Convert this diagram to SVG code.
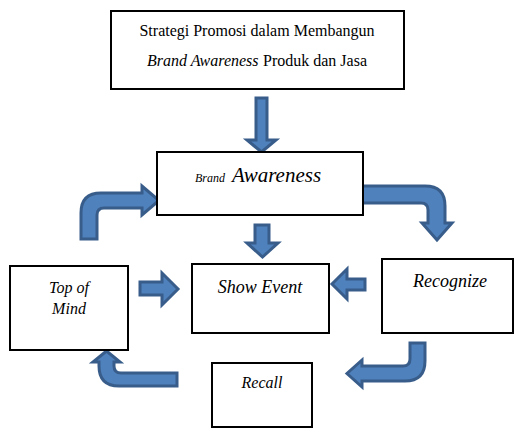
<svg xmlns="http://www.w3.org/2000/svg" width="515" height="428" viewBox="0 0 515 428">
<style>
.box{fill:#fff;stroke:#000;stroke-width:2}
.arr{fill:#4F81BD;stroke:#385D8A;stroke-width:3;stroke-linejoin:miter}
.t{font-family:'Liberation Serif',serif;fill:#000}
.it{font-family:'Liberation Serif',serif;font-style:italic;fill:#000}
</style>
<rect width="515" height="428" fill="#fff"/>
<g id="connectors">
<path class="arr" d="M256,98 H267 V140 H276 L261.5,152 L247,140 H256 Z"/>
<path class="arr" d="M255,225 H269 V243 H278 L262.5,257 L247,243 H255 Z"/>
<path class="arr" d="M140,282 H162 V273 L178,289 L162,305 V295 H140 Z"/>
<path class="arr" d="M365,279 H347 V269 L332,284 L347,299 V290 H365 Z"/>
<path class="arr" d="M81,239 V213 Q81,193 101,193 H142 V186 L159,200.5 L142,215 V208 H104 Q97,208 97,215 V239 Z"/>
<path class="arr" d="M362,186 H425 Q445,186 445,206 V223 H452 L437,240 L422,223 H428 V210 Q428,203 421,203 H362 Z"/>
<path class="arr" d="M410,343 H425 V361 Q425,381 405,381 H362 V387 L347,373.5 L362,360 V366 H403 Q410,366 410,359 Z"/>
<path class="arr" d="M177,373 V386 H119 Q99,386 99,366 V362 H93 L106.5,351 L120,362 H114 V366 Q114,373 121,373 Z"/>
</g>
<g id="top">
<rect class="box" x="111" y="11" width="293" height="78"/>
<text class="t" font-family="Liberation Serif, serif" x="257" y="36" font-size="16" text-anchor="middle">Strategi Promosi dalam Membangun</text>
<text class="it" font-family="Liberation Serif, serif" x="147" y="66" font-size="16">Brand Awareness</text>
<text class="t" font-family="Liberation Serif, serif" x="263" y="66" font-size="16">Produk dan Jasa</text>
</g>
<g id="brand-awareness">
<rect class="box" x="157" y="152" width="206" height="63"/>
<text class="it" font-family="Liberation Serif, serif" x="195" y="182" font-size="12">Brand</text>
<text class="it" font-family="Liberation Serif, serif" x="232" y="182" font-size="21">Awareness</text>
</g>
<g id="show-event">
<rect class="box" x="192" y="264" width="137" height="69"/>
<text class="it" font-family="Liberation Serif, serif" x="260" y="293" font-size="18" text-anchor="middle">Show Event</text>
</g>
<g id="top-of-mind">
<rect class="box" x="10" y="266" width="118" height="84"/>
<text class="it" font-family="Liberation Serif, serif" x="69" y="293" font-size="16" text-anchor="middle">Top of</text>
<text class="it" font-family="Liberation Serif, serif" x="69" y="314" font-size="16" text-anchor="middle">Mind</text>
</g>
<g id="recognize">
<rect class="box" x="382" y="259" width="131" height="74"/>
<text class="it" font-family="Liberation Serif, serif" x="450" y="287" font-size="18" text-anchor="middle">Recognize</text>
</g>
<g id="recall">
<rect class="box" x="212" y="363" width="100" height="64"/>
<text class="it" font-family="Liberation Serif, serif" x="262" y="388" font-size="16" text-anchor="middle">Recall</text>
</g>
</svg>
